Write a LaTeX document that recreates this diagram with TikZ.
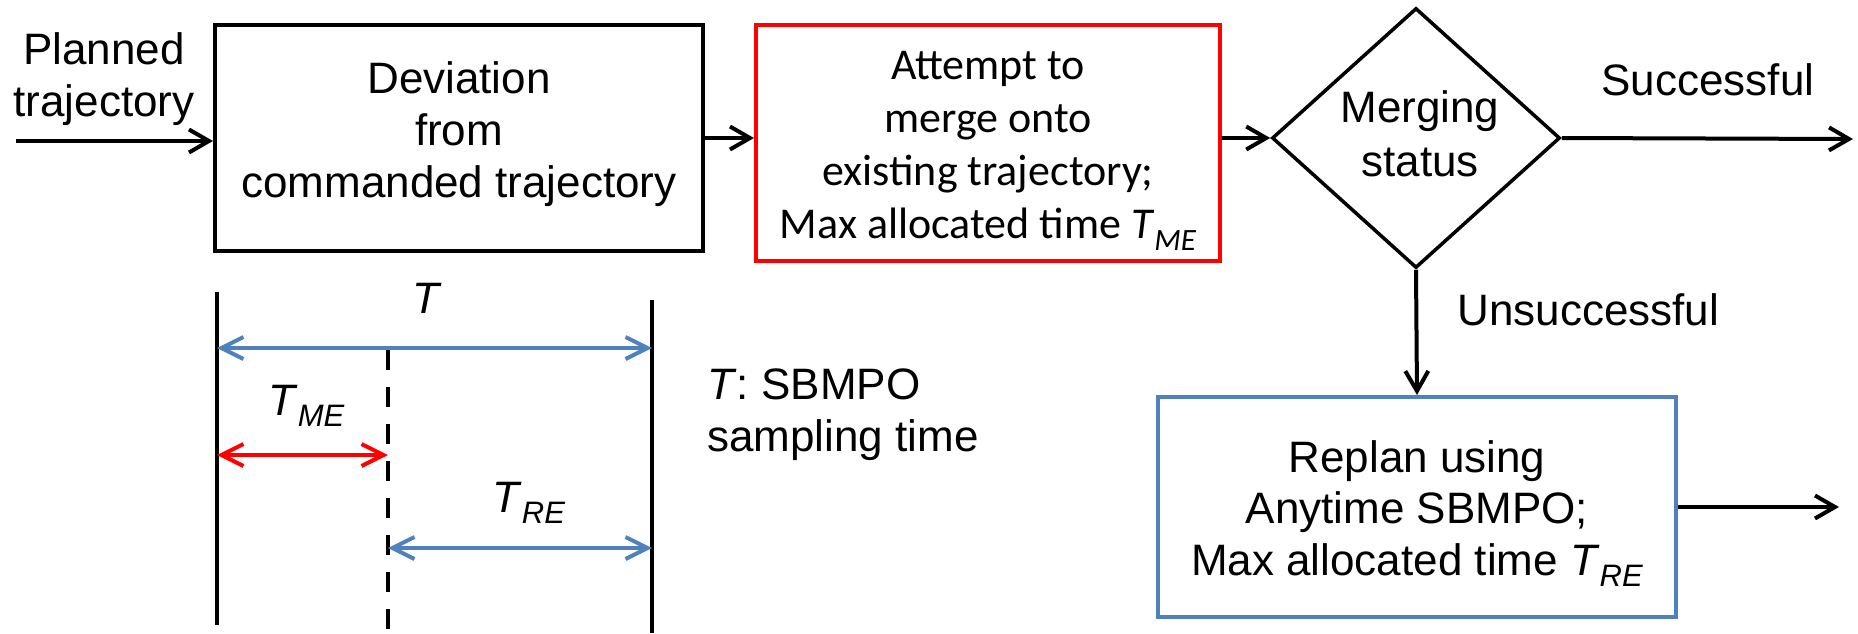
\documentclass[tikz,border=0pt]{standalone}
\usepackage{fontspec}
\setmainfont{Liberation Sans}
\newfontfamily\calibrifont{Carlito}
\usetikzlibrary{arrows.meta,shapes.geometric}
\definecolor{ofblue}{RGB}{79,129,189}
\definecolor{ofred}{RGB}{255,0,0}
\newcommand{\tsub}[1]{\textit{T}\raisebox{-0.27em}{\fontsize{15.5pt}{15.5pt}\selectfont\itshape #1}}
\begin{document}
\begin{tikzpicture}[x=0.5pt,y=-0.5pt,
  txt/.style={inner sep=0pt, font=\fontsize{22pt}{26pt}\selectfont},
  boxnode/.style={draw, line width=2pt, rectangle, inner sep=0pt},
  arr/.style={line width=2pt, -{Straight Barb[length=10pt,width=11.5pt]}},
  dbl/.style={line width=2pt, {Straight Barb[length=11pt,width=11pt]}-{Straight Barb[length=11pt,width=11pt]}},
  vline/.style={line width=1.7pt}
]
\useasboundingbox (0,0) rectangle (1858,633);

% boxes
\node[boxnode, minimum width=244pt, minimum height=113pt] (b1) at (459,138) {};
\node[boxnode, draw=ofred, minimum width=232pt, minimum height=118pt] (b2) at (988,143) {};
\node[draw, line width=1.75pt, diamond, inner sep=0pt, minimum width=144pt, minimum height=130pt] (dm) at (1416,138) {};
\node[boxnode, draw=ofblue, minimum width=259pt, minimum height=110pt] (b3) at (1417,507) {};

% texts
\node[txt, align=center] (tp) at (104,79.5) {Planned\\trajectory};
\node[txt, align=center] (t1) at (459,134) {Deviation\\from\\commanded trajectory};
\node[txt, align=center, font=\fontsize{22pt}{26.5pt}\selectfont\calibrifont] (t2) at (988,150.5) {Attempt to\\merge onto\\existing trajectory;\\Max allocated time \tsub{ME}};
\node[txt, align=center, font=\fontsize{22pt}{27pt}\selectfont] (td) at (1420,134) {Merging\\status};
\node[txt, anchor=base] (ts) at (1708,95) {Successful};
\node[txt, anchor=base west] (tu) at (1457,325) {Unsuccessful};
\node[txt, align=center, font=\fontsize{22pt}{25.75pt}\selectfont] (t3) at (1417,513.5) {Replan using\\Anytime SBMPO;\\Max allocated time \tsub{RE}};

% connectors
\coordinate (in) at (16,141);
\coordinate (out1) at (1853,139);
\coordinate (out2) at (1839,507);
\draw[arr] (in) -- (in -| b1.west);
\draw[arr] (b1.east) -- (b1.east -| b2.west);
\draw[arr] (b2.east |- dm.west) -- (dm.west);
\draw[arr] (dm.east) -- (out1);
\draw[arr] (dm.south) -- (b3.north);
\draw[arr] (b3.east) -- (out2);

% timing diagram
\coordinate (L0) at (217,292);
\coordinate (L1) at (217,625);
\coordinate (R0) at (652,300);
\coordinate (R1) at (652,633);
\coordinate (D0) at (388,350);
\coordinate (D1) at (388,633);
\draw[vline] (L0) -- (L1);
\draw[vline] (R0) -- (R1);
\draw[line width=2pt, dash pattern=on 10pt off 8.5pt] (D0) -- (D1);

\coordinate (aTl) at (217,348);
\coordinate (aTr) at (652,348);
\coordinate (aMl) at (217,455);
\coordinate (aMr) at (388,455);
\coordinate (aRl) at (388,548);
\coordinate (aRr) at (652,548);
\draw[dbl, ofblue] (aTl) -- (aTr);
\draw[dbl, ofred] (aMl) -- (aMr);
\draw[dbl, ofblue] (aRl) -- (aRr);

\node[txt, anchor=base] (tT) at (427,313) {\textit{T}};
\node[txt, anchor=base west] (tME) at (268,415) {\tsub{ME}};
\node[txt, anchor=base west] (tRE) at (492,512) {\tsub{RE}};
\node[txt, align=left, anchor=west] (tdef) at (707,414.5) {\textit{T}: SBMPO\\sampling time};
\end{tikzpicture}
\end{document}
